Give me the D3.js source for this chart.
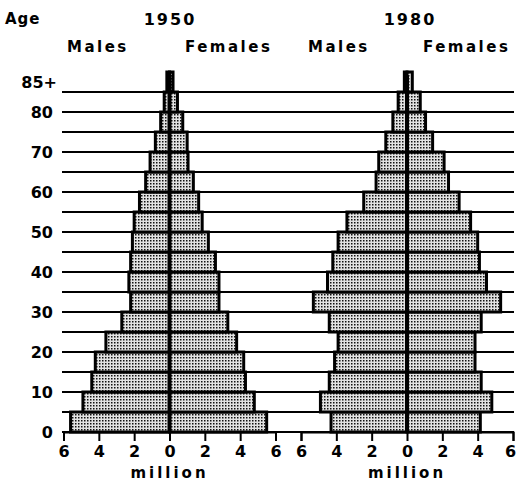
<!DOCTYPE html>
<html>
<head>
<meta charset="utf-8">
<script src="https://cdn.jsdelivr.net/npm/d3@7"></script>
<style>
  body { margin: 0; background: #fff; }
  text { font-family: "DejaVu Sans", sans-serif; font-weight: bold; fill: #000; }
</style>
</head>
<body>
<svg id="chart" width="516" height="482"></svg>
<script>
// age groups, 5-year steps, starting age of each group
const ageStarts = [0, 5, 10, 15, 20, 25, 30, 35, 40, 45, 50, 55, 60, 65, 70, 75, 80, 85];
const ageLabels = ["0", "10", "20", "30", "40", "50", "60", "70", "80"];
const ageLabelValues = [0, 10, 20, 30, 40, 50, 60, 70, 80];

// million people per age group
const males1950   = [5.6, 4.9, 4.4, 4.2, 3.6, 2.7, 2.2, 2.3, 2.2, 2.1, 2.0, 1.7, 1.35, 1.1, 0.8, 0.5, 0.3, 0.15];
const females1950 = [5.5, 4.8, 4.3, 4.2, 3.8, 3.3, 2.8, 2.8, 2.6, 2.2, 1.85, 1.65, 1.35, 1.05, 1.0, 0.75, 0.45, 0.2];
const males1980   = [4.3, 4.9, 4.4, 4.1, 3.9, 4.4, 5.3, 4.5, 4.2, 3.9, 3.4, 2.45, 1.75, 1.6, 1.2, 0.8, 0.5, 0.15];
const females1980 = [4.15, 4.8, 4.2, 3.85, 3.85, 4.2, 5.3, 4.5, 4.1, 4.0, 3.6, 2.95, 2.35, 2.1, 1.45, 1.05, 0.75, 0.3];

const tickValues = [-6, -4, -2, 0, 2, 4, 6];

const svg = d3.select("#chart");

// stipple fill
const defs = svg.append("defs");
const pat = defs.append("pattern")
  .attr("id", "stip")
  .attr("width", 3).attr("height", 3)
  .attr("patternUnits", "userSpaceOnUse");
pat.append("rect").attr("width", 3).attr("height", 3).attr("fill", "#e2e2e2");
pat.append("rect").attr("width", 1.5).attr("height", 1.5).attr("fill", "#111");

const y = d3.scaleLinear().domain([0, 90]).range([432, 72]);

// horizontal row lines
svg.append("g")
  .selectAll("line")
  .data(ageStarts)
  .join("line")
  .attr("x1", 62).attr("x2", 514)
  .attr("y1", d => y(d)).attr("y2", d => y(d))
  .attr("stroke", "#000")
  .attr("stroke-width", 2);

function pyramid(range, males, females, edgeShift) {
  const x = d3.scaleLinear().domain([-6, 6]).range(range);
  const g = svg.append("g");

  const rows = ageStarts.map((a, i) => ({ a, m: males[i], f: females[i] }));

  g.selectAll("rect.m")
    .data(rows)
    .join("rect")
    .attr("class", "m")
    .attr("x", d => x(-d.m))
    .attr("y", d => y(d.a + 5))
    .attr("width", d => x(0) - x(-d.m))
    .attr("height", d => y(d.a) - y(d.a + 5))
    .attr("fill", "url(#stip)")
    .attr("stroke", "#000")
    .attr("stroke-width", 3);

  g.selectAll("rect.f")
    .data(rows)
    .join("rect")
    .attr("class", "f")
    .attr("x", x(0))
    .attr("y", d => y(d.a + 5))
    .attr("width", d => x(d.f) - x(0))
    .attr("height", d => y(d.a) - y(d.a + 5))
    .attr("fill", "url(#stip)")
    .attr("stroke", "#000")
    .attr("stroke-width", 3);

  // center line
  g.append("line")
    .attr("x1", x(0)).attr("x2", x(0))
    .attr("y1", y(0)).attr("y2", y(89))
    .attr("stroke", "#000").attr("stroke-width", 4);

  const ax = g.append("g")
    .attr("transform", `translate(0,${y(0)})`)
    .call(d3.axisBottom(x).tickValues(tickValues).tickFormat(d => Math.abs(d)).tickSize(9).tickPadding(5));
  ax.selectAll("path, line").attr("stroke", "#000").attr("stroke-width", 2);
  ax.selectAll("text")
    .attr("font-size", 16)
    .attr("font-family", "DejaVu Sans, sans-serif")
    .attr("font-weight", "bold")
    .attr("dx", d => (d === 6 ? -edgeShift : 0));

  svg.append("text")
    .attr("x", x(0)).attr("y", 478)
    .attr("text-anchor", "middle")
    .attr("font-size", 15)
    .attr("letter-spacing", 3)
    .text("million");
  return x;
}

pyramid([63.5, 275.5], males1950, females1950, 0);
pyramid([301, 513], males1980, females1980, 3);

// age labels
svg.append("g")
  .selectAll("text")
  .data(ageLabelValues)
  .join("text")
  .attr("x", 53)
  .attr("y", d => y(d))
  .attr("dy", "0.36em")
  .attr("text-anchor", "end")
  .attr("font-size", 16)
  .text((d, i) => ageLabels[i]);

svg.append("text")
  .attr("x", 57).attr("y", y(87.5))
  .attr("dy", "0.36em")
  .attr("text-anchor", "end")
  .attr("font-size", 16)
  .text("85+");

// headers
svg.append("text").attr("x", 5).attr("y", 24).attr("font-size", 15).attr("letter-spacing", 1).text("Age");
svg.append("text").attr("x", 170).attr("y", 25).attr("text-anchor", "middle").attr("font-size", 16).attr("letter-spacing", 2).text("1950");
svg.append("text").attr("x", 410).attr("y", 25).attr("text-anchor", "middle").attr("font-size", 16).attr("letter-spacing", 2).text("1980");

svg.append("text").attr("x", 67).attr("y", 52).attr("font-size", 15).attr("letter-spacing", 2.5).text("Males");
svg.append("text").attr("x", 185).attr("y", 52).attr("font-size", 15).attr("letter-spacing", 2.5).text("Females");
svg.append("text").attr("x", 308).attr("y", 52).attr("font-size", 15).attr("letter-spacing", 2.5).text("Males");
svg.append("text").attr("x", 423).attr("y", 52).attr("font-size", 15).attr("letter-spacing", 2.5).text("Females");
</script>
</body>
</html>
